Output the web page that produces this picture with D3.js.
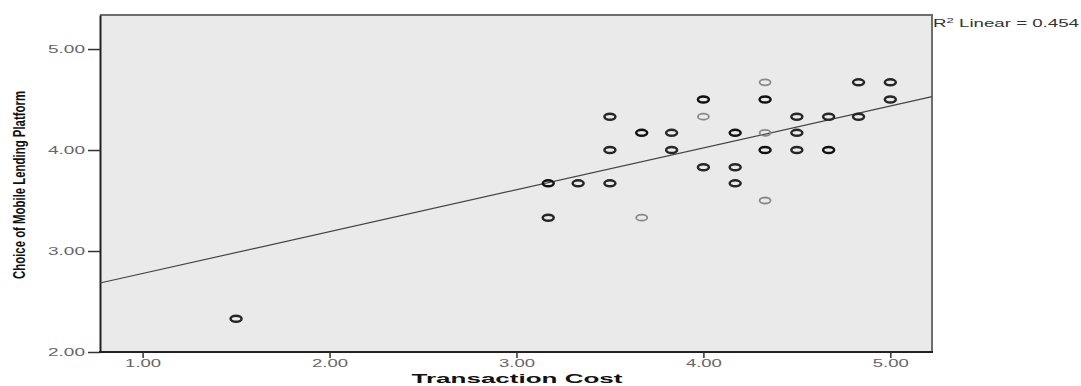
<!DOCTYPE html>
<html>
<head>
<meta charset="utf-8">
<script src="https://cdn.jsdelivr.net/npm/d3@7"></script>
<style>
  html, body { margin: 0; padding: 0; background: #fff; }
  svg { display: block; font-family: "Liberation Sans", Arial, sans-serif; }
</style>
</head>
<body>
<div id="chart"></div>
<script>
// ── Data ────────────────────────────────────────────────────────────────────
const costX   = [1.50, 3.17, 3.17, 3.33, 3.50, 3.50, 3.50, 3.67, 3.67, 3.83, 3.83,
                 4.00, 4.00, 4.00, 4.17, 4.17, 4.17, 4.33, 4.33, 4.33, 4.33, 4.33,
                 4.50, 4.50, 4.50, 4.67, 4.67, 4.83, 4.83, 5.00, 5.00];
const choiceY = [2.33, 3.67, 3.33, 3.67, 4.33, 4.00, 3.67, 4.17, 3.33, 4.17, 4.00,
                 4.50, 4.33, 3.83, 4.17, 3.83, 3.67, 4.67, 4.50, 4.17, 4.00, 3.50,
                 4.33, 4.17, 4.00, 4.33, 4.00, 4.67, 4.33, 4.67, 4.50];
// how many cases share each position (overlapping markers look darker)
const caseCount = [2, 3, 2, 2, 2, 2, 2, 3, 1, 2, 2,
                   3, 1, 2, 3, 2, 2, 1, 3, 1, 3, 1,
                   2, 2, 2, 2, 3, 2, 2, 2, 2];
const xTicks = [1, 2, 3, 4, 5];
const yTicks = [2, 3, 4, 5];
const fitIntercept = 2.363;
const fitSlope = 0.4145;
const r2Label = "0.454";

// ── Layout ───────────────────────────────────────────────────────────────────
const W = 1081, H = 386;
const plot = { left: 100, right: 932, top: 15, bottom: 352 };

const svg = d3.select("#chart").append("svg")
  .attr("width", W).attr("height", H);

const x = d3.scaleLinear().domain([0.772, 5.223]).range([plot.left, plot.right]);
const y = d3.scaleLinear().domain([2, 5.337]).range([plot.bottom, plot.top]);

// plot background + top/right frame
svg.append("rect")
  .attr("x", plot.left).attr("y", plot.top)
  .attr("width", plot.right - plot.left).attr("height", plot.bottom - plot.top)
  .attr("fill", "#eaeaea");
svg.append("path")
  .attr("d", `M${plot.left},${plot.top}H${plot.right}V${plot.bottom}`)
  .attr("fill", "none").attr("stroke", "#6e6e6e").attr("stroke-width", 2);

// ── Axes
const fmt = d3.format(".2f");

const yAxis = svg.append("g")
  .attr("transform", `translate(${plot.left},0)`)
  .call(d3.axisLeft(y).tickValues(yTicks).tickFormat(fmt).tickSize(12).tickSizeOuter(0));
yAxis.select(".domain").attr("stroke", "#222").attr("stroke-width", 2);
yAxis.selectAll(".tick line").attr("stroke", "#333").attr("stroke-width", 1.5);
yAxis.selectAll(".tick text")
  .attr("x", -15).attr("dy", "0.35em")
  .attr("font-size", 10).attr("fill", "#666")
  .attr("textLength", 37).attr("lengthAdjust", "spacingAndGlyphs");

const xAxis = svg.append("g")
  .attr("transform", `translate(0,${plot.bottom})`)
  .call(d3.axisBottom(x).tickValues(xTicks).tickFormat(fmt).tickSize(6).tickSizeOuter(0));
xAxis.select(".domain")
  .attr("d", `M${plot.left - 1},0H${plot.right + 1}`)
  .attr("stroke", "#222").attr("stroke-width", 2);
xAxis.selectAll(".tick line").attr("stroke", "#333").attr("stroke-width", 1.5);
xAxis.selectAll(".tick text")
  .attr("y", 15).attr("dy", 0)
  .attr("font-size", 10).attr("fill", "#666")
  .attr("textLength", 36).attr("lengthAdjust", "spacingAndGlyphs");

// ── Fit line (drawn across the whole plot width)
const [x0, x1] = x.domain();
svg.append("line")
  .attr("x1", x(x0)).attr("y1", y(fitIntercept + fitSlope * x0))
  .attr("x2", x(x1)).attr("y2", y(fitIntercept + fitSlope * x1))
  .attr("stroke", "#444").attr("stroke-width", 1.2);

// ── Points (open "o" markers)
const points = costX.map((v, i) => ({ x: v, y: choiceY[i], n: caseCount[i] }));
const shade = d3.scaleOrdinal().domain([1, 2, 3]).range(["#888", "#262626", "#111"]);

svg.append("g")
  .selectAll("ellipse")
  .data(points)
  .join("ellipse")
  .attr("cx", d => x(d.x))
  .attr("cy", d => y(d.y))
  .attr("rx", 5.5).attr("ry", 3)
  .attr("fill", "none")
  .attr("stroke", d => shade(Math.min(d.n, 3)))
  .attr("stroke-width", d => (d.n > 1 ? 2.5 : 1.8));

// ── Titles
svg.append("text")
  .attr("x", 517).attr("y", 383)
  .attr("text-anchor", "middle")
  .attr("font-size", 13).attr("font-weight", "bold").attr("fill", "#111")
  .attr("textLength", 211).attr("lengthAdjust", "spacingAndGlyphs")
  .text("Transaction Cost");

svg.append("text")
  .attr("transform", "translate(25,185) rotate(-90)")
  .attr("text-anchor", "middle")
  .attr("font-size", 17).attr("font-weight", "bold").attr("fill", "#111")
  .attr("textLength", 188).attr("lengthAdjust", "spacingAndGlyphs")
  .text("Choice of Mobile Lending Platform");

const r2 = svg.append("text")
  .attr("x", 933).attr("y", 27)
  .attr("font-size", 10).attr("fill", "#333")
  .attr("textLength", 146).attr("lengthAdjust", "spacingAndGlyphs");
r2.append("tspan").text("R");
r2.append("tspan").attr("dy", -4).attr("font-size", 7).text("2");
r2.append("tspan").attr("dy", 4).text(` Linear = ${r2Label}`);
</script>
</body>
</html>
